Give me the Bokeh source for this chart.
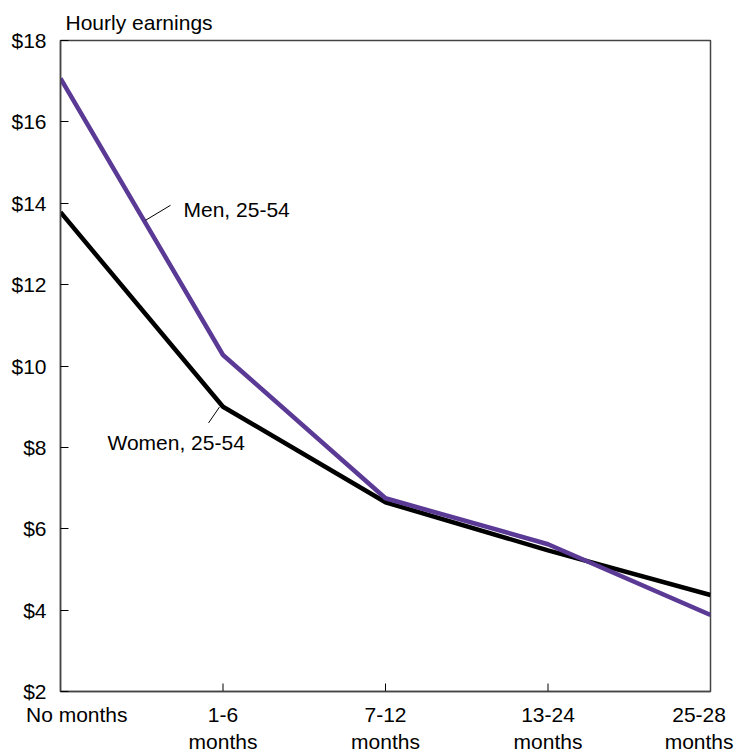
import math
from bokeh.plotting import figure
from bokeh.models import FixedTicker, Range1d, Label
from bokeh.embed import file_html
from bokeh.resources import INLINE

categories = ["No months", "1-6\nmonths", "7-12\nmonths", "13-24\nmonths", "25-28\nmonths"]
men = [17.07, 10.27, 6.75, 5.62, 3.88]
women = [13.78, 9.0, 6.65, 5.47, 4.37]
y_ticks = [2, 4, 6, 8, 10, 12, 14, 16, 18]
y_labels = ["$" + str(v) for v in y_ticks]

FONT = "Liberation Sans"
FS = "21px"
xs = list(range(len(categories)))
# label anchor positions (first and last labels are nudged inward, as in the original)
label_pos = [0.1, 1, 2, 3, 3.93]

p = figure(width=738, height=756, output_backend="svg", toolbar_location=None,
           x_range=Range1d(0, 4), y_range=Range1d(2, 18),
           min_border_left=60, min_border_right=28, min_border_top=40, min_border_bottom=64,
           title="Hourly earnings")
p.title.text_font = FONT
p.title.text_font_size = FS
p.title.text_font_style = "normal"
p.title.text_color = "black"
p.title.align = "left"
p.title.offset = 5
p.title.standoff = 13
p.grid.visible = False
p.outline_line_color = "#444444"
p.outline_line_width = 1.5

p.line(xs, women, line_color="black", line_width=4.5)
p.line(xs, men, line_color="#5b3a96", line_width=4.5)

# inward x ticks at the interior categories
inner = xs[1:-1]
p.ray(x=inner, y=[2] * len(inner), length=8, length_units="screen", angle=math.pi / 2,
      line_color="black", line_width=1)

# x axis: labels only
p.xaxis.ticker = FixedTicker(ticks=label_pos)
p.xaxis.major_label_overrides = {pos: c for pos, c in zip(label_pos, categories)}
p.xaxis.major_tick_line_color = None
p.xaxis.major_tick_in = 0
p.xaxis.major_tick_out = 0
p.xaxis.major_label_standoff = 11

p.yaxis.ticker = FixedTicker(ticks=y_ticks)
p.yaxis.major_label_overrides = {v: l for v, l in zip(y_ticks, y_labels)}
p.yaxis.major_tick_in = 8
p.yaxis.major_tick_out = 0
p.yaxis.major_tick_line_color = "black"
p.yaxis.major_label_standoff = 14
for ax in (p.xaxis[0], p.yaxis[0]):
    ax.axis_line_color = "#444444"
    ax.axis_line_width = 1.5
    ax.minor_tick_line_color = None
    ax.major_label_text_font = FONT
    ax.major_label_text_font_size = FS
    ax.major_label_text_color = "black"

# annotations
p.segment(x0=[0.523, 0.911], y0=[13.58, 8.60], x1=[0.677, 0.978], y1=[13.95, 8.99],
          line_color="black", line_width=1)
p.add_layout(Label(x=0.757, y=13.85, text="Men, 25-54", text_font=FONT,
                   text_font_size=FS, text_baseline="middle", text_color="black"))
p.add_layout(Label(x=0.289, y=8.13, text="Women, 25-54", text_font=FONT,
                   text_font_size=FS, text_baseline="middle", text_color="black"))

open("out.html", "w").write(file_html(p, INLINE))
